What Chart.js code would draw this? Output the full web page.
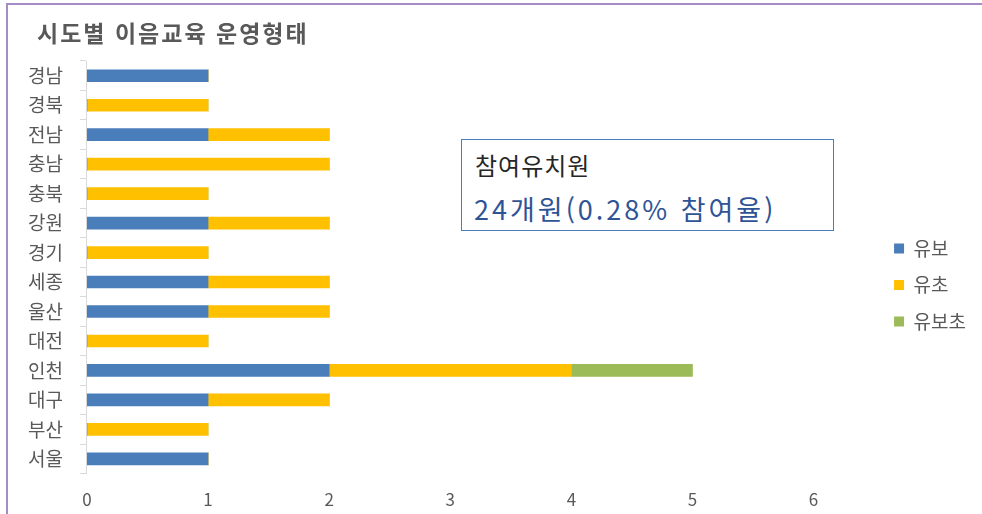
<!DOCTYPE html>
<html lang="ko">
<head>
<meta charset="utf-8">
<script src="https://cdn.jsdelivr.net/npm/chart.js@4"></script>
<style>
  body { margin: 0; background: #fff; font-family: 'Noto Sans CJK KR', sans-serif; }
  #wrap { position: relative; width: 982px; height: 514px; overflow: hidden; }
  #frame-top { position: absolute; left: 6px; top: 3px; width: 976px; height: 2px; background: #a68bc4; }
  #frame-left { position: absolute; left: 6px; top: 3px; width: 2px; height: 511px; background: #a68bc4; }
  #chart-title { position: absolute; left: 37px; top: 15px; font-size: 23px; font-weight: 700; color: #595959; letter-spacing: 2px; }
  #note { position: absolute; left: 461px; top: 139px; width: 373px; height: 92px; box-sizing: border-box;
          border: 1.5px solid #4a7ebb; background: #fff; padding-left: 13px; }
  #note .l1 { position: absolute; top: 7px; font-size: 24px; color: #262626; letter-spacing: 1px; }
  #note .l2 { position: absolute; left: 12px; top: 49px; font-size: 27px; color: #2f5496; letter-spacing: 3px; white-space: nowrap; }
</style>
</head>
<body>
<div id="wrap">
  <canvas id="chart" width="982" height="514"></canvas>
  <div id="frame-top"></div>
  <div id="frame-left"></div>
  <div id="chart-title">시도별 이음교육 운영형태</div>
  <div id="note"><span class="l1">참여유치원</span><span class="l2">24개원(0.28% 참여율)</span></div>
</div>
<script>
'use strict';
// DATA
const regions = ['경남', '경북', '전남', '충남', '충북', '강원', '경기', '세종', '울산', '대전', '인천', '대구', '부산', '서울'];
const seriesNames = ['유보', '유초', '유보초'];
const yuBo = [1, 0, 1, 0, 0, 1, 0, 1, 1, 0, 2, 1, 0, 1];
const yuCho = [0, 1, 1, 2, 1, 1, 1, 1, 1, 1, 2, 1, 1, 0];
const yuBoCho = [0, 0, 0, 0, 0, 0, 0, 0, 0, 0, 1, 0, 0, 0];
const seriesColors = ['#4a7ebb', '#ffc000', '#9bbb59'];

Chart.defaults.font.family = "'Noto Sans CJK KR', sans-serif";
Chart.defaults.color = '#595959';

// BAR CHART
const data = {
  labels: regions,
  datasets: [yuBo, yuCho, yuBoCho].map((values, i) => ({
    label: seriesNames[i],
    data: values,
    backgroundColor: seriesColors[i],
    borderWidth: 0,
    barThickness: 12,
  })),
};

const config = {
  type: 'bar',
  data: data,
  options: {
    indexAxis: 'y',
    responsive: false,
    animation: false,
    layout: { padding: { left: 11, top: 61, bottom: -12, right: 6 } },
    scales: {
      x: {
        stacked: true,
        min: 0,
        max: 6.52,
        ticks: { stepSize: 1, padding: 16, font: { size: 17 }, color: '#595959' },
        afterBuildTicks: (scale) => {
          scale.ticks = scale.ticks.filter((t) => Number.isInteger(t.value));
        },
        grid: { display: false, drawTicks: false },
        border: { display: false },
      },
      y: {
        stacked: true,
        ticks: { padding: 17, font: { size: 19 }, color: '#595959' },
        grid: { drawOnChartArea: false, drawTicks: true, tickLength: 7, color: '#d9d9d9' },
        border: { display: true, color: '#d9d9d9' },
      },
    },
    plugins: {
      title: { display: false },
      tooltip: { enabled: false },
      legend: {
        position: 'right',
        align: 'start',
        // empty title only pushes the items down to where the original legend sits
        title: { display: true, text: '', padding: { top: 146, bottom: 0 } },
        labels: { boxWidth: 10, boxHeight: 10, padding: 17.5, font: { size: 19 }, color: '#595959' },
      },
    },
  },
};

new Chart(document.querySelector('#chart'), config);
</script>
</body>
</html>
